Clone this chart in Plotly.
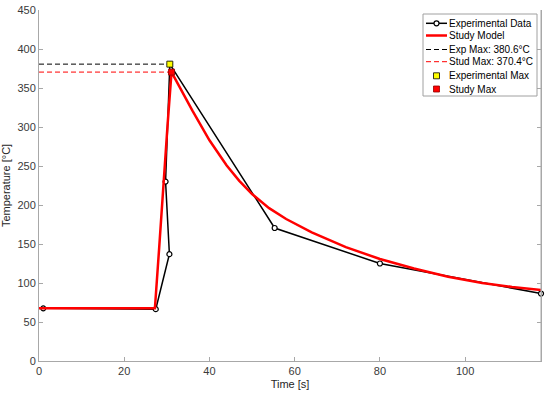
import plotly.graph_objects as go

# ---- data ----
exp_t = [1.0, 27.4, 30.6, 29.7, 30.7, 55.3, 80.0, 117.8]
exp_T = [67.5, 66.5, 137.0, 230.0, 380.6, 170.5, 125.0, 86.5]

model_t = [0, 27.2, 28.2, 29.2, 30.2, 31.1, 33.0, 36.0, 40.0, 44.0, 47.0, 50.0,
           54.0, 58.0, 64.0, 72.0, 80.0, 88.0, 96.0, 104.0, 111.0, 117.8]
model_T = [67.5, 67.5, 145.0, 228.0, 305.0, 370.4, 351.0, 321.0, 283.0, 251.0,
           231.0, 214.0, 196.0, 182.0, 165.0, 146.0, 130.8, 118.5, 108.0, 100.0,
           95.0, 91.0]

exp_max_t, exp_max_T = 30.7, 380.6
stud_max_t, stud_max_T = 31.1, 370.4

x_ticks = [0, 20, 40, 60, 80, 100]
y_ticks = [0, 50, 100, 150, 200, 250, 300, 350, 400, 450]

legend_labels = ["Experimental Data", "Study Model",
                 f"Exp Max: {exp_max_T:.1f}°C", f"Stud Max: {stud_max_T:.1f}°C",
                 "Experimental Max", "Study Max"]

FONT = "Liberation Sans, Arial, sans-serif"
W, H = 550, 397
ML, MR, MT, MB = 39, 9, 10, 36
PW, PH = W - ML - MR, H - MT - MB
AXC = "#a8a8a8"
DASH = "5px,3px"

fig = go.Figure()
# dashed max lines
fig.add_trace(go.Scatter(x=[0, exp_max_t], y=[exp_max_T, exp_max_T], mode="lines",
                         line=dict(color="black", width=1, dash=DASH), showlegend=False))
fig.add_trace(go.Scatter(x=[0, stud_max_t], y=[stud_max_T, stud_max_T], mode="lines",
                         line=dict(color="red", width=1, dash=DASH), showlegend=False))
# experimental data
fig.add_trace(go.Scatter(x=exp_t, y=exp_T, mode="lines+markers", cliponaxis=False,
                         line=dict(color="black", width=1.5),
                         marker=dict(symbol="circle", size=5, color="white",
                                     line=dict(color="black", width=1.2)),
                         showlegend=False))
# study model
fig.add_trace(go.Scatter(x=model_t, y=model_T, mode="lines",
                         line=dict(color="red", width=2.5), showlegend=False))
# max markers
fig.add_trace(go.Scatter(x=[exp_max_t], y=[exp_max_T], mode="markers",
                         marker=dict(symbol="square", size=6, color="yellow",
                                     line=dict(color="black", width=0.8)),
                         showlegend=False))
fig.add_trace(go.Scatter(x=[stud_max_t], y=[stud_max_T], mode="markers",
                         marker=dict(symbol="square", size=6, color="red",
                                     line=dict(color="#900000", width=0.8)),
                         showlegend=False))

# ---- manual legend (MATLAB-like compact box) ----
def px(xp):
    return (xp - ML) / PW

def py(yp):
    return (H - MB - yp) / PH

shapes = []
annotations = []
# right-hand axis frame line (MATLAB box)
shapes.append(dict(type="line", xref="paper", yref="paper", x0=1, x1=1, y0=0, y1=1,
                   line=dict(color=AXC, width=1), layer="above"))
box = dict(x0=423, x1=537, y0=14, y1=96)
shapes.append(dict(type="rect", xref="paper", yref="paper",
                   x0=px(box["x0"]), x1=px(box["x1"]), y0=py(box["y1"]), y1=py(box["y0"]),
                   line=dict(color="#a0a0a0", width=1), fillcolor="white", layer="above"))
row_y = [23.3, 35.5, 49.5, 61.7, 75.8, 89.0]
lx0, lx1, lxc, tx = 426, 447, 436.5, 446.5
samples = [
    dict(line=dict(color="black", width=1.5), mk="circle"),
    dict(line=dict(color="red", width=2.5), mk=None),
    dict(line=dict(color="black", width=1, dash=DASH), mk=None),
    dict(line=dict(color="red", width=1, dash=DASH), mk=None),
    dict(line=None, mk="ysq"),
    dict(line=None, mk="rsq"),
]
for lab, yy, s in zip(legend_labels, row_y, samples):
    if s.get("line"):
        shapes.append(dict(type="line", xref="paper", yref="paper",
                           x0=px(lx0), x1=px(lx1), y0=py(yy), y1=py(yy),
                           line=s["line"], layer="above"))
    mk = s.get("mk")
    if mk == "circle":
        shapes.append(dict(type="circle", xref="paper", yref="paper",
                           xsizemode="pixel", ysizemode="pixel",
                           xanchor=px(lxc), yanchor=py(yy),
                           x0=-2.5, x1=2.5, y0=-2.5, y1=2.5,
                           fillcolor="white", line=dict(color="black", width=1.2),
                           layer="above"))
    elif mk in ("ysq", "rsq"):
        shapes.append(dict(type="rect", xref="paper", yref="paper",
                           xsizemode="pixel", ysizemode="pixel",
                           xanchor=px(lxc), yanchor=py(yy),
                           x0=-3, x1=3, y0=-3, y1=3,
                           fillcolor="yellow" if mk == "ysq" else "red",
                           line=dict(color="black" if mk == "ysq" else "#900000", width=0.8),
                           layer="above"))
    annotations.append(dict(xref="paper", yref="paper", x=px(tx), y=py(yy),
                            xanchor="left", yanchor="middle", showarrow=False,
                            text=lab, font=dict(family=FONT, size=10, color="black")))

axis_common = dict(showgrid=False, zeroline=False, showline=True, automargin=False,
                   linecolor=AXC, linewidth=1, ticks="inside", ticklen=4,
                   tickcolor=AXC,
                   tickfont=dict(family=FONT, size=11, color="#3a3a3a"))

fig.update_layout(
    width=W, height=H,
    margin=dict(l=ML, r=MR, t=MT, b=MB),
    paper_bgcolor="white", plot_bgcolor="white",
    showlegend=False,
    xaxis=dict(range=[0, 117.8], tickvals=x_ticks,
               title=dict(text="Time [s]", font=dict(family=FONT, size=11, color="#262626"),
                          standoff=4),
               **axis_common),
    yaxis=dict(range=[0, 450], tickvals=y_ticks, mirror="ticks",
               title=dict(text="Temperature [°C]", font=dict(family=FONT, size=11, color="#262626"),
                          standoff=8),
               **axis_common),
    shapes=shapes, annotations=annotations,
)

fig.write_html("out.html", config={"displayModeBar": False},
               post_script="document.body.style.margin='0';document.documentElement.style.margin='0';")
